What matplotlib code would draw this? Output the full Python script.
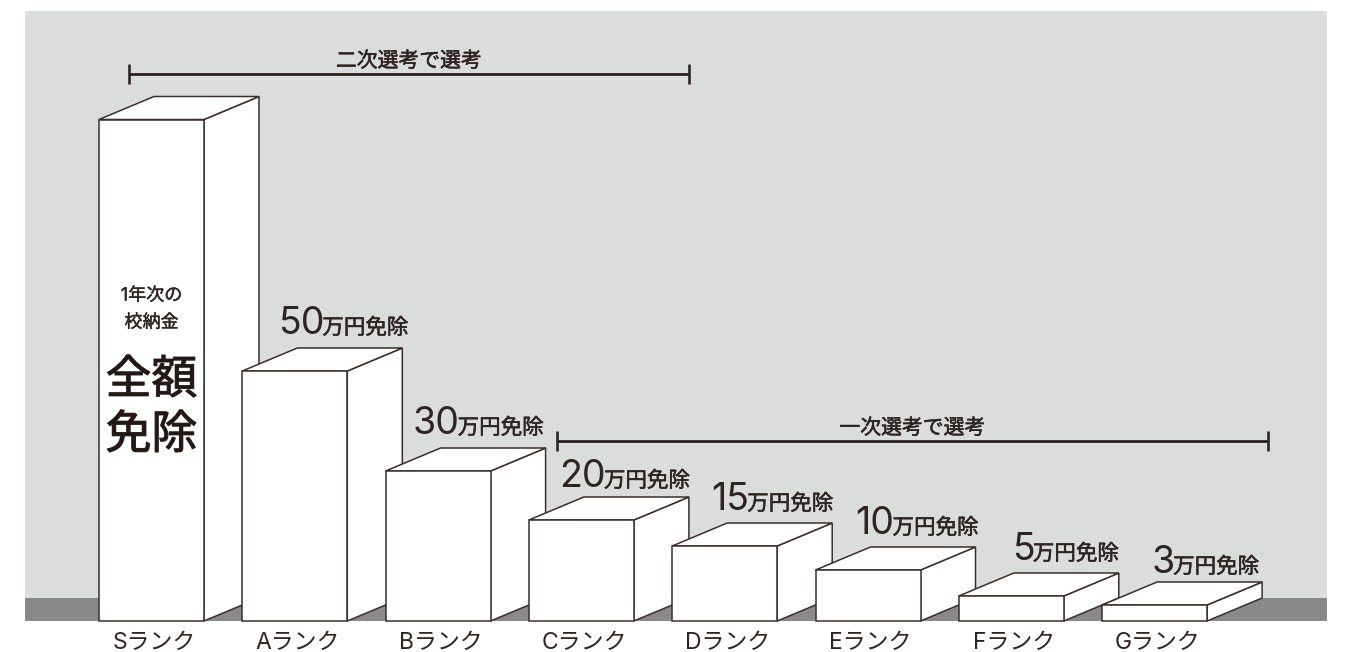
import matplotlib
matplotlib.use("Agg")
import matplotlib.pyplot as plt
from matplotlib.patches import Polygon, Rectangle
import matplotlib.patheffects as pe

FONT = ['Inter', 'Noto Sans CJK JP', 'DejaVu Sans']
plt.rcParams['font.family'] = FONT

# data (S rank is full exemption, drawn at 100 units tall)
ranks = ['Sランク', 'Aランク', 'Bランク', 'Cランク', 'Dランク', 'Eランク', 'Fランク', 'Gランク']
heights = [100.3, 50, 30, 20.2, 15, 10.2, 5, 3.2]
amounts = [None, '50', '30', '20', '15', '10', '5', '3']
unit_text = '万円免除'
span_second = '二次選考で選考'
span_first = '一次選考で選考'
s_small = ['1年次の', '校納金']
s_large = ['全額', '免除']

# layout
W, H = 1345, 652
BG, GROUND, INK = '#DBDDDC', '#898989', '#2E2523'
X0, X1, Y0, Y1 = 25, 1327, 621, 11
STEP, BAR_W, DEPTH_X, DEPTH_Y = 143.3, 105, 55, 23
PX_PER_UNIT = 5
BAR0 = 99
junction = [None, 81, 73, 76, 76, 78, 75, 72]
label_gap = [None, 24, 24, 20, 23, 23, 23, 19]


def heavy(width):
    return [pe.withStroke(linewidth=width, foreground=INK)]


fig = plt.figure(figsize=(W / 100, H / 100), dpi=100, facecolor='white')
ax = fig.add_axes([X0 / W, 1 - Y0 / H, (X1 - X0) / W, (Y0 - Y1) / H])
ax.set_xlim((X0 - BAR0) / STEP, (X1 - BAR0) / STEP)
ax.set_ylim(0, (Y0 - Y1) / PX_PER_UNIT)
ax.set_facecolor(BG)
for s in ax.spines.values():
    s.set_visible(False)
ax.set_yticks([])

w, dx, dy = BAR_W / STEP, DEPTH_X / STEP, DEPTH_Y / PX_PER_UNIT
ax.add_patch(Rectangle((ax.get_xlim()[0], 0), ax.get_xlim()[1] - ax.get_xlim()[0], dy,
                       facecolor=GROUND, edgecolor='none', zorder=1, clip_on=False))
LW = 1.1
for i, h in enumerate(heights):
    z = 2 + i
    kw = dict(facecolor='white', edgecolor='#3A2F2C', linewidth=LW, joinstyle='miter', zorder=z, clip_on=False)
    ax.add_patch(Polygon([(i + w, 0), (i + w + dx, dy), (i + w + dx, h + dy), (i + w, h)], **kw))
    ax.add_patch(Polygon([(i, h), (i + w, h), (i + w + dx, h + dy), (i + dx, h + dy)], **kw))
    ax.add_patch(Rectangle((i, 0), w, h, **kw))

ax.set_xticks([i + 55 / STEP for i in range(len(ranks))])
ax.set_xticklabels(ranks, fontsize=16.5, color=INK)
ax.tick_params(axis='x', length=0, pad=8)

# overlay in figure pixels for annotations
ov = fig.add_axes([0, 0, 1, 1], facecolor='none')
ov.set_xlim(0, W)
ov.set_ylim(H, 0)
ov.axis('off')

for i, (a, h) in enumerate(zip(amounts, heights)):
    if a is None:
        continue
    jx = BAR0 + i * STEP + junction[i]
    ytop = Y0 - h * PX_PER_UNIT - DEPTH_Y
    yc = ytop - label_gap[i]
    ov.text(jx + 1, yc + 10, a, ha='right', va='baseline', fontsize=27, color=INK)
    ov.text(jx - 1, yc + 10, unit_text, ha='left', va='baseline', fontsize=15.5, color=INK,
            path_effects=heavy(0.4))

sx = BAR0 + BAR_W / 2
for t, y in zip(s_small, [296, 323]):
    ov.text(sx, y, t, ha='center', va='center', fontsize=13, color=INK, path_effects=heavy(0.3))
for t, y in zip(s_large, [381, 436]):
    ov.text(sx, y, t, ha='center', va='center', fontsize=33, color='#231815', path_effects=heavy(0.8))


def bracket(x0, x1, y, label):
    ov.plot([x0, x1], [y, y], color='#231815', lw=1.9, solid_capstyle='butt')
    for x in (x0, x1):
        ov.plot([x, x], [y - 10, y + 10], color=INK, lw=1.9, solid_capstyle='butt')
    ov.text((x0 + x1) / 2, y - 13, label, ha='center', va='center', fontsize=15, color=INK,
            path_effects=heavy(0.4))


bracket(129, 689, 74, span_second)
bracket(557, 1268, 441, span_first)

fig.savefig('out.png', dpi=100, facecolor='white')
